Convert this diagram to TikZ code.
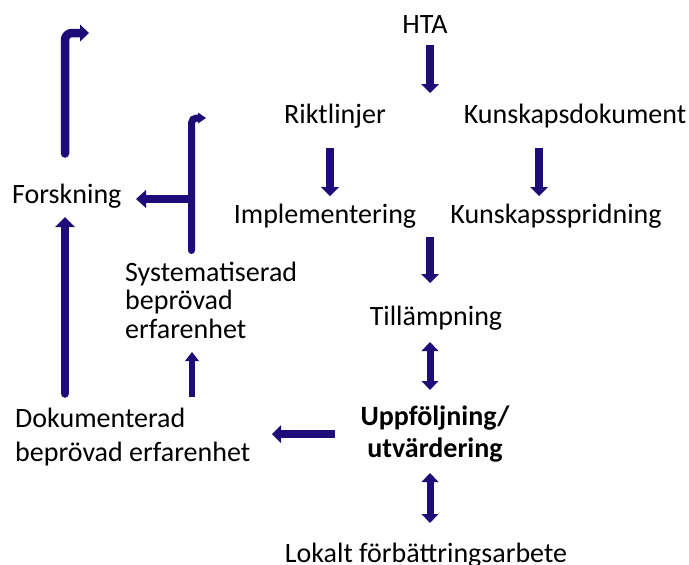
\documentclass[tikz,border=0pt]{standalone}
\usepackage{fontspec}
\setmainfont{Carlito}
\usetikzlibrary{arrows.meta,calc,positioning}
\definecolor{arrowblue}{RGB}{30,13,120}

\begin{document}
\begin{tikzpicture}[
    x=1pt, y=-1pt,
    lbl/.style={inner sep=0pt, font=\fontsize{28}{32}\selectfont},
    systlbl/.style={inner sep=0pt, align=left, font=\fontsize{28}{28.5}\selectfont},
    doklbl/.style={inner sep=0pt, align=left, font=\fontsize{28}{34}\selectfont},
    uppflbl/.style={inner sep=0pt, align=center, font=\fontsize{28}{32}\selectfont\bfseries},
    bigarrow/.style={color=arrowblue, line width=8pt, -{Triangle[width=18pt,length=9pt,line width=0pt]}},
    dblarrow/.style={color=arrowblue, line width=7pt, {Triangle[width=17pt,length=9pt,line width=0pt]}-{Triangle[width=17pt,length=9pt,line width=0pt]}},
    smallarrow/.style={color=arrowblue, line width=6.5pt, -{Triangle[width=14pt,length=9pt,line width=0pt]}},
    longarrow/.style={color=arrowblue, line width=8.5pt, line cap=round, -{Triangle[width=20pt,length=10pt,line width=0pt]}},
    bentarrow/.style={color=arrowblue, line width=8.5pt, line cap=round, rounded corners=7pt, -{Triangle[width=17pt,length=9pt,line width=0pt]}},
    systbent/.style={color=arrowblue, line width=7pt, line cap=round, rounded corners=5pt, -{Triangle[width=11pt,length=8pt,line width=0pt]}}
]
\useasboundingbox (0,0) rectangle (689,565);

% Main chain
\node[lbl, anchor=base] (hta) at (425,33) {HTA};
\node[lbl, anchor=base] (rikt) at (335,123) {Riktlinjer};
\node[lbl, anchor=base] (kdok) at (575,123) {Kunskapsdokument};
\node[lbl, anchor=base] (impl) at (325,223) {Implementering};
\node[lbl, anchor=base] (ksprid) at (556,223) {Kunskapsspridning};
\node[lbl, anchor=base] (till) at (436,325) {Tillämpning};
\node[uppflbl, anchor=base] (uppf) at (435,457) {Uppföljning/\\utvärdering};
\node[lbl, anchor=base] (lokalt) at (426,562) {Lokalt förbättringsarbete};

% Left side
\node[lbl, anchor=base west] (forsk) at (12,203) {Forskning};
\node[systlbl, anchor=base west] (syst) at (125,338) {Systematiserad\\beprövad\\erfarenhet};
\node[doklbl, anchor=base west] (dok) at (15,461) {Dokumenterad\\beprövad erfarenhet};

\coordinate (forskout) at (89,33);
\coordinate (systout) at (206,118);

% Arrows down the chain
\draw[bigarrow] ($(hta.base)+(5,12)$) -- ++(0,48);
\draw[bigarrow] ($(rikt.base)+(-5,25)$) -- ($(impl.base)+(5,-27)$);
\draw[bigarrow] ($(kdok.base)+(-36,25)$) -- ($(ksprid.base)+(-17,-27)$);
\draw[bigarrow] ($(till.base)+(-6,-88)$) -- ($(till.base)+(-6,-42)$);
\draw[dblarrow] ($(till.base)+(-6,17)$) -- ($(uppf.base)+(-5,-67)$);
\draw[dblarrow] ($(uppf.base)+(-5,16)$) -- ($(lokalt.base)+(4,-39)$);

% Arrows on the left
\draw[bigarrow] ($(uppf.base)+(-100,-23)$) -- ($(dok.base west)+(257,-27)$);
\draw[smallarrow] ($(dok.base west)+(177,-64)$) -- ($(syst.base west)+(67,14)$);
\draw[longarrow] ($(dok.base west)+(50,-67.5)$) -- ($(forsk.base west)+(53,14)$);
\draw[bentarrow] ($(forsk.base west)+(53,-49.5)$) |- (forskout);
\draw[systbent] ($(syst.base west)+(66.5,-87.5)$) |- (systout);
\draw[bigarrow, -{Triangle[width=18pt,length=10pt,line width=0pt]}] ($(syst.base west)+(66.5,-139)$) -- ($(forsk.base west)+(124,-4)$);

\end{tikzpicture}
\end{document}
